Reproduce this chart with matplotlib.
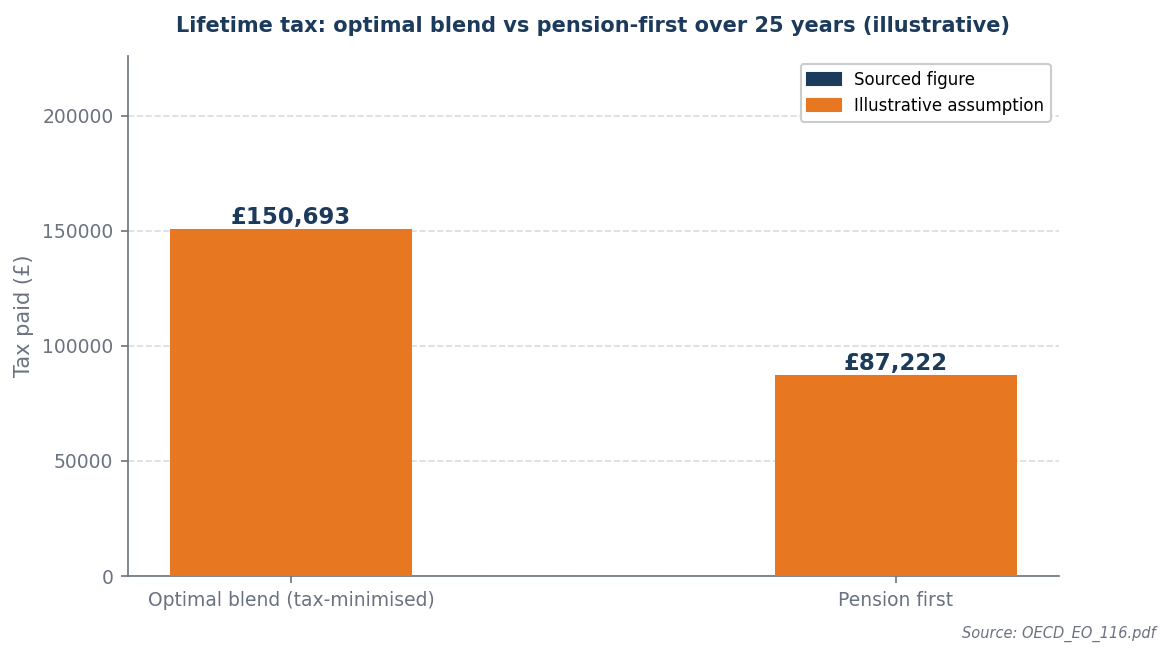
import matplotlib
matplotlib.use('Agg')
import matplotlib.pyplot as plt
from matplotlib.patches import Patch

categories = ['Optimal blend (tax-minimised)', 'Pension first']
tax_paid = [150693, 87222]
bar_labels = ['£150,693', '£87,222']

NAVY = '#1b3a5c'
ORANGE = '#e87722'
GREY = '#6b7280'

fig, ax = plt.subplots(figsize=(7.8, 4.3867), dpi=150)
fig.subplots_adjust(left=0.1094, right=0.905, top=0.9155, bottom=0.1246)

x = range(len(categories))
ax.bar(x, tax_paid, width=0.4, color=ORANGE, zorder=3)
for xi, v, lab in zip(x, tax_paid, bar_labels):
    ax.text(xi, v, lab, ha='center', va='bottom', fontsize=11,
            fontweight='bold', color=NAVY, zorder=4)

ax.set_xticks(list(x))
ax.set_xticklabels(categories)
ax.set_ylim(0, max(tax_paid) * 1.5)
ax.set_ylabel('Tax paid (£)', fontsize=10, color=GREY)
ax.tick_params(axis='both', labelsize=9, colors=GREY)
ax.grid(axis='y', linestyle='--', color='#d9dce1', linewidth=0.8, zorder=0)
for s in ['top', 'right']:
    ax.spines[s].set_visible(False)
for s in ['left', 'bottom']:
    ax.spines[s].set_color(GREY)

ax.set_title('Lifetime tax: optimal blend vs pension-first over 25 years (illustrative)',
             fontsize=10, fontweight='bold', color=NAVY, pad=11.5)

handles = [Patch(color=NAVY, label='Sourced figure'),
           Patch(color=ORANGE, label='Illustrative assumption')]
ax.legend(handles=handles, loc='upper right', fontsize=8, framealpha=1)

fig.text(0.988, 0.025, 'Source: OECD_EO_116.pdf', ha='right', va='bottom',
         fontsize=7, style='italic', color=GREY)

fig.savefig('out.png', dpi=150)
